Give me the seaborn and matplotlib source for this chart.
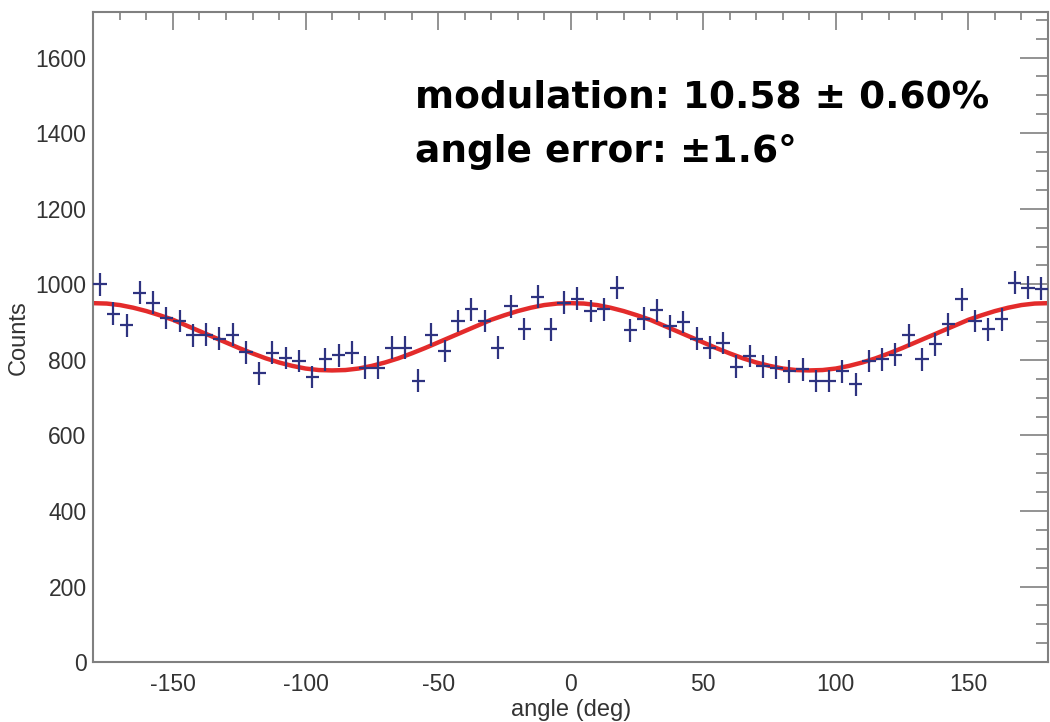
import matplotlib
matplotlib.use("Agg")
import matplotlib.pyplot as plt
from matplotlib.ticker import MultipleLocator
import numpy as np
import pandas as pd
import seaborn as sns

# -- data ---------------------------------------------------------------------

# bin centres, 5 deg bins
ANGLE = np.arange(-177.5, 180, 5)
COUNTS = [
    1000, 922, 891, 978, 951, 911, 903, 865, 867, 856, 867, 820,
    764, 819, 805, 797, 755, 801, 812, 819, 779, 779, 832, 832,
    745, 867, 823, 903, 934, 903, 832, 942, 882, 967, 881, 951,
    962, 929, 934, 991, 878, 909, 931, 889, 900, 856, 832, 845,
    782, 810, 783, 779, 770, 775, 744, 744, 770, 735, 797, 801,
    814, 865, 801, 841, 894, 960, 903, 881, 907, 1004, 991, 988,
]
HALF_BIN = 2.5
COUNT_ERR = 30

# fitted modulation curve, sampled every 5 deg
FIT_ANGLE = np.arange(-180, 181, 5)
FIT_COUNTS = [
    950, 949, 945, 938, 929, 918, 906, 891, 876, 861, 846, 831, 817,
    804, 793, 784, 777, 773, 772, 773, 777, 784, 793, 804, 817, 831,
    846, 861, 876, 891, 906, 918, 929, 938, 945, 949, 950, 949, 945,
    938, 929, 918, 906, 891, 876, 861, 846, 831, 817, 804, 793, 784,
    777, 773, 772, 773, 777, 784, 793, 804, 817, 831, 846, 861, 876,
    891, 906, 918, 929, 938, 945, 949, 950,
]

TEXT_LINES = ["modulation: 10.58 ± 0.60%", "angle error: ±1.6°"]

# -- style ---------------------------------------------------------------------

sns.set_style("white")
plt.rcParams.update(
    {
        "font.family": ["Liberation Sans", "DejaVu Sans"],
        "axes.unicode_minus": False,
    }
)

AX_GREY = "#808080"
CROSS_COL = "#2e3380"
FIT_COL = "#e32b2b"


def main():
    fig = plt.figure(figsize=(10.5, 7.22), dpi=100)
    ax = fig.add_axes([0.089, 0.083, 0.909, 0.900])

    fit = pd.DataFrame({"angle": FIT_ANGLE, "counts": FIT_COUNTS})
    sns.lineplot(data=fit, x="angle", y="counts", color=FIT_COL,
                 linewidth=3.2, ax=ax, zorder=2)

    ax.errorbar(ANGLE, COUNTS, xerr=HALF_BIN, yerr=COUNT_ERR, fmt="none",
                ecolor=CROSS_COL, elinewidth=1.6, capsize=0, zorder=3)

    ax.set_xlim(-180, 180)
    ax.set_ylim(0, 1720)

    ax.xaxis.set_major_locator(MultipleLocator(50))
    ax.xaxis.set_minor_locator(MultipleLocator(10))
    ax.yaxis.set_minor_locator(MultipleLocator(50))
    ax.set_yticks(np.arange(0, 1601, 200))

    ax.tick_params(axis="both", which="both", direction="in", top=True,
                   right=True, color=AX_GREY, width=1.2,
                   labelcolor="#333333", labelsize=16.5)
    ax.tick_params(axis="y", which="major", length=20, pad=5)
    ax.tick_params(axis="y", which="minor", length=8.5)
    ax.tick_params(axis="x", which="major", length=13, pad=8)
    ax.tick_params(axis="x", which="minor", length=6)

    for sp in ax.spines.values():
        sp.set_color(AX_GREY)
        sp.set_linewidth(1.5)

    ax.set_xlabel("angle (deg)", fontsize=17, color="#333333", labelpad=2)
    ax.set_ylabel("Counts", fontsize=17, color="#333333", labelpad=4)

    for text, y in zip(TEXT_LINES, (1468, 1325)):
        ax.text(-58.8, y, text, fontsize=27, fontweight="bold",
                family="DejaVu Sans", color="black", va="baseline", ha="left")

    fig.savefig("out.png", dpi=100, facecolor="white")
    plt.close(fig)


if __name__ == "__main__":
    main()
